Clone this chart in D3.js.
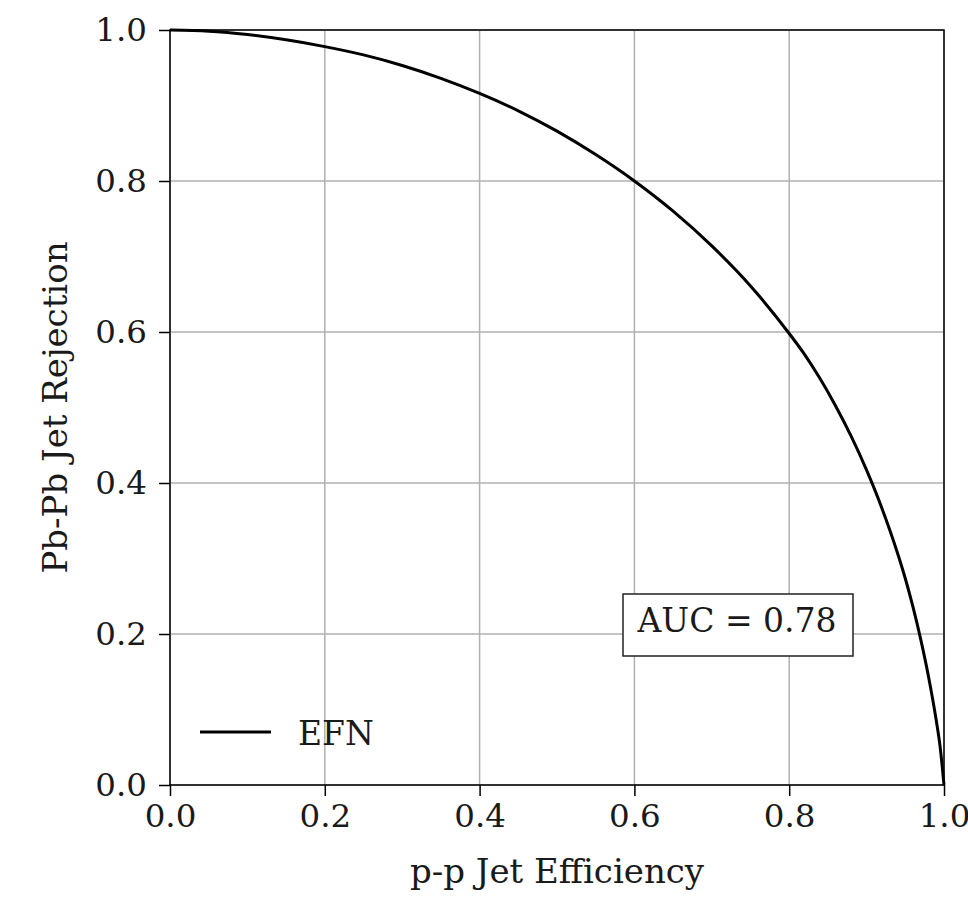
<!DOCTYPE html>
<html>
<head>
<meta charset="utf-8">
<script src="https://cdn.jsdelivr.net/npm/d3@7"></script>
<style>
  html, body { margin: 0; padding: 0; background: #fff; }
  svg { display: block; }
  text { font-family: "DejaVu Serif", serif; fill: #1a1a1a; }
</style>
</head>
<body>
<svg id="chart" width="968" height="899"></svg>
<script>
// ---- data ----
const efficiency = [0, 0.05, 0.1, 0.15, 0.2, 0.25, 0.3, 0.35, 0.4, 0.45, 0.5, 0.55, 0.6, 0.65, 0.7, 0.75, 0.8, 0.82, 0.84, 0.86, 0.88, 0.9, 0.92, 0.94, 0.95, 0.96, 0.97, 0.98, 0.99, 0.995, 1.0];
const rejection  = [1.0, 0.9985, 0.994, 0.987, 0.978, 0.967, 0.953, 0.936, 0.916, 0.893, 0.866, 0.835, 0.8, 0.76, 0.714, 0.661, 0.598, 0.570, 0.538, 0.502, 0.462, 0.417, 0.366, 0.307, 0.2735, 0.2355, 0.1925, 0.1435, 0.0855, 0.0505, 0.0];
const xTicks = [0, 0.2, 0.4, 0.6, 0.8, 1.0];
const yTicks = [0, 0.2, 0.4, 0.6, 0.8, 1.0];
const seriesName = "EFN";
const aucLabel = "AUC = 0.78";
const xLabel = "p-p Jet Efficiency";
const yLabel = "Pb-Pb Jet Rejection";

const svg = d3.select("#chart");
const m = { left: 170, top: 30, right: 944, bottom: 785 };
const x = d3.scaleLinear().domain([0, 1]).range([m.left, m.right]);
const y = d3.scaleLinear().domain([0, 1]).range([m.bottom, m.top]);
const tickFs = 32.5, labelFs = 34, textFs = 33;

// grid
const g = svg.append("g");
g.selectAll(".gx").data(xTicks).join("line")
  .attr("x1", d => x(d)).attr("x2", d => x(d))
  .attr("y1", m.top).attr("y2", m.bottom)
  .attr("stroke", "#b0b0b0").attr("stroke-width", 1.5);
g.selectAll(".gy").data(yTicks).join("line")
  .attr("y1", d => y(d)).attr("y2", d => y(d))
  .attr("x1", m.left).attr("x2", m.right)
  .attr("stroke", "#b0b0b0").attr("stroke-width", 1.5);

// curve
const pts = efficiency.map((e, i) => [e, rejection[i]]);
svg.append("path").datum(pts)
  .attr("fill", "none").attr("stroke", "#000").attr("stroke-width", 3)
  .attr("stroke-linejoin", "round")
  .attr("d", d3.line().x(d => x(d[0])).y(d => y(d[1])).curve(d3.curveMonotoneX));

// axes
const xAxis = d3.axisBottom(x).tickValues(xTicks).tickFormat(d3.format(".1f")).tickSize(11).tickPadding(8);
const yAxis = d3.axisLeft(y).tickValues(yTicks).tickFormat(d3.format(".1f")).tickSize(11).tickPadding(12);
const gx = svg.append("g").attr("transform", `translate(0,${m.bottom})`).call(xAxis);
const gy = svg.append("g").attr("transform", `translate(${m.left},0)`).call(yAxis);
[gx, gy].forEach(a => {
  a.select(".domain").remove();
  a.selectAll(".tick line").attr("stroke", "#000").attr("stroke-width", 1.5);
  a.selectAll(".tick text").style("font-family", "DejaVu Serif").attr("font-size", tickFs).attr("fill", "#1a1a1a");
});

// spines
svg.append("rect").attr("x", m.left).attr("y", m.top)
  .attr("width", m.right - m.left).attr("height", m.bottom - m.top)
  .attr("fill", "none").attr("stroke", "#000").attr("stroke-width", 1.5);

// labels
svg.append("text").attr("x", (m.left + m.right) / 2).attr("y", 883)
  .attr("text-anchor", "middle").attr("font-size", labelFs).text(xLabel);
svg.append("text").attr("transform", `translate(67,${(m.top + m.bottom) / 2}) rotate(-90)`)
  .attr("text-anchor", "middle").attr("font-size", labelFs).text(yLabel);

// legend
svg.append("line").attr("x1", 200).attr("x2", 271).attr("y1", 732).attr("y2", 732)
  .attr("stroke", "#000").attr("stroke-width", 3);
svg.append("text").attr("x", 298).attr("y", 745).attr("font-size", textFs).text(seriesName);

// AUC box
svg.append("rect").attr("x", 623).attr("y", 594).attr("width", 230).attr("height", 62)
  .attr("fill", "#fff").attr("stroke", "#222").attr("stroke-width", 1.5);
svg.append("text").attr("x", 737).attr("y", 632).attr("text-anchor", "middle")
  .attr("font-size", textFs).text(aucLabel);
</script>
</body>
</html>
